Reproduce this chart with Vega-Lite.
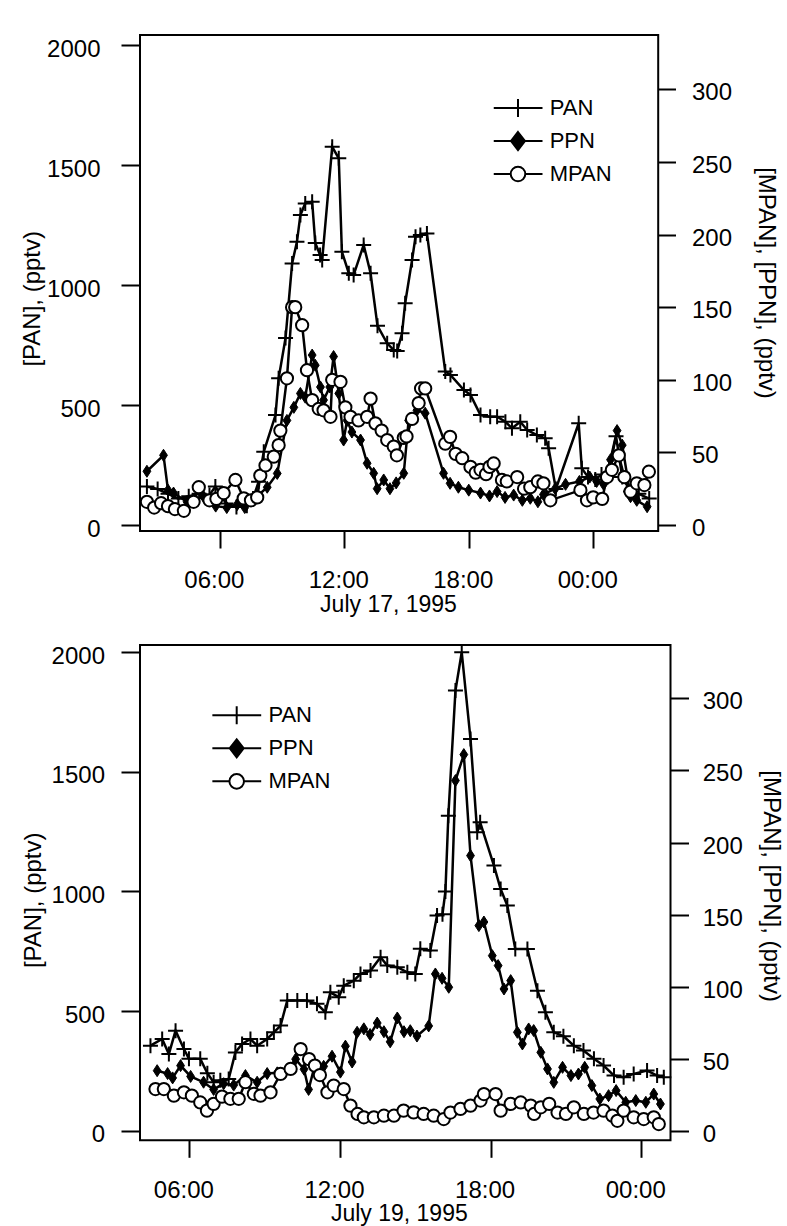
{
  "$schema": "https://vega.github.io/schema/vega-lite/v6.json",
  "padding": {"left": 19, "top": 34, "right": 4, "bottom": 0},
  "spacing": 22,
  "resolve": {"scale": {"shape": "independent", "fill": "independent", "stroke": "independent"}, "legend": {"shape": "independent", "fill": "independent", "stroke": "independent"}},
  "config": {
    "font": "Liberation Sans",
    "view": {"stroke": "black", "strokeWidth": 2},
    "axis": {"domain": false, "grid": false, "tickColor": "black", "tickWidth": 2, "labelColor": "black", "labelFontSize": 24, "titleFontSize": 24, "titleFontWeight": "normal", "titleColor": "black", "labelFlush": false}
  },
  "datasets": {
    "tPAN": [
      {"t":"1995-07-17T02:29","v":160},{"t":"1995-07-17T03:00","v":150},{"t":"1995-07-17T03:30","v":130},{"t":"1995-07-17T04:00","v":110},{"t":"1995-07-17T04:30","v":120},{"t":"1995-07-17T05:00","v":130},{"t":"1995-07-17T05:30","v":125},{"t":"1995-07-17T05:47","v":160},{"t":"1995-07-17T06:18","v":90},{"t":"1995-07-17T06:48","v":75},{"t":"1995-07-17T07:18","v":80},{"t":"1995-07-17T07:36","v":110},{"t":"1995-07-17T07:52","v":180},{"t":"1995-07-17T08:07","v":305},{"t":"1995-07-17T08:41","v":458},{"t":"1995-07-17T08:50","v":611},{"t":"1995-07-17T09:10","v":779},{"t":"1995-07-17T09:29","v":1090},{"t":"1995-07-17T09:43","v":1180},{"t":"1995-07-17T09:53","v":1292},{"t":"1995-07-17T10:07","v":1340},{"t":"1995-07-17T10:27","v":1347},{"t":"1995-07-17T10:36","v":1175},{"t":"1995-07-17T10:50","v":1125},{"t":"1995-07-17T10:56","v":1104},{"t":"1995-07-17T11:25","v":1576},{"t":"1995-07-17T11:44","v":1528},{"t":"1995-07-17T11:53","v":1139},{"t":"1995-07-17T12:13","v":1049},{"t":"1995-07-17T12:27","v":1042},{"t":"1995-07-17T12:56","v":1167},{"t":"1995-07-17T13:16","v":1049},{"t":"1995-07-17T13:36","v":830},{"t":"1995-07-17T14:04","v":757},{"t":"1995-07-17T14:23","v":729},{"t":"1995-07-17T14:33","v":725},{"t":"1995-07-17T14:47","v":799},{"t":"1995-07-17T14:56","v":924},{"t":"1995-07-17T15:16","v":1104},{"t":"1995-07-17T15:26","v":1201},{"t":"1995-07-17T15:40","v":1208},{"t":"1995-07-17T15:59","v":1215},{"t":"1995-07-17T16:52","v":640},{"t":"1995-07-17T17:07","v":625},{"t":"1995-07-17T17:46","v":562},{"t":"1995-07-17T18:05","v":542},{"t":"1995-07-17T18:34","v":458},{"t":"1995-07-17T19:02","v":451},{"t":"1995-07-17T19:22","v":451},{"t":"1995-07-17T19:46","v":430},{"t":"1995-07-17T20:05","v":403},{"t":"1995-07-17T20:29","v":430},{"t":"1995-07-17T20:49","v":396},{"t":"1995-07-17T21:17","v":375},{"t":"1995-07-17T21:41","v":361},{"t":"1995-07-17T21:51","v":320},{"t":"1995-07-17T22:12","v":150},{"t":"1995-07-17T23:18","v":424},{"t":"1995-07-17T23:27","v":236},{"t":"1995-07-17T23:45","v":200},{"t":"1995-07-18T00:06","v":190},{"t":"1995-07-18T00:24","v":210},{"t":"1995-07-18T00:42","v":200},{"t":"1995-07-18T01:06","v":370},{"t":"1995-07-18T01:24","v":200},{"t":"1995-07-18T01:48","v":140},{"t":"1995-07-18T02:12","v":130},{"t":"1995-07-18T02:42","v":110}
    ],
    "tPPN": [
      {"t":"1995-07-17T02:29","v":37},{"t":"1995-07-17T03:17","v":48},{"t":"1995-07-17T03:30","v":24},{"t":"1995-07-17T03:46","v":22},{"t":"1995-07-17T04:25","v":16},{"t":"1995-07-17T05:13","v":19.5},{"t":"1995-07-17T05:48","v":13},{"t":"1995-07-17T06:20","v":12},{"t":"1995-07-17T06:50","v":14},{"t":"1995-07-17T07:12","v":12},{"t":"1995-07-17T07:47","v":19.5},{"t":"1995-07-17T08:17","v":26},{"t":"1995-07-17T08:46","v":35.5},{"t":"1995-07-17T09:14","v":72},{"t":"1995-07-17T09:34","v":81},{"t":"1995-07-17T09:53","v":90.6},{"t":"1995-07-17T10:07","v":88},{"t":"1995-07-17T10:27","v":117},{"t":"1995-07-17T10:36","v":110},{"t":"1995-07-17T10:51","v":95},{"t":"1995-07-17T11:00","v":86},{"t":"1995-07-17T11:18","v":95},{"t":"1995-07-17T11:29","v":116},{"t":"1995-07-17T11:44","v":90.6},{"t":"1995-07-17T11:58","v":58.5},{"t":"1995-07-17T12:08","v":72},{"t":"1995-07-17T12:22","v":64},{"t":"1995-07-17T12:47","v":58.5},{"t":"1995-07-17T13:06","v":42.5},{"t":"1995-07-17T13:25","v":35.6},{"t":"1995-07-17T13:35","v":25},{"t":"1995-07-17T13:54","v":31},{"t":"1995-07-17T14:12","v":25},{"t":"1995-07-17T14:30","v":29},{"t":"1995-07-17T14:52","v":35.6},{"t":"1995-07-17T15:06","v":72},{"t":"1995-07-17T15:30","v":79},{"t":"1995-07-17T15:54","v":77},{"t":"1995-07-17T16:47","v":35.6},{"t":"1995-07-17T17:06","v":28.7},{"t":"1995-07-17T17:30","v":26},{"t":"1995-07-17T18:00","v":24},{"t":"1995-07-17T18:34","v":22},{"t":"1995-07-17T19:00","v":20},{"t":"1995-07-17T19:22","v":23},{"t":"1995-07-17T19:45","v":19},{"t":"1995-07-17T20:10","v":20.6},{"t":"1995-07-17T20:35","v":17},{"t":"1995-07-17T20:58","v":18.4},{"t":"1995-07-17T21:20","v":16},{"t":"1995-07-17T21:36","v":21},{"t":"1995-07-17T22:10","v":25},{"t":"1995-07-17T22:40","v":28},{"t":"1995-07-17T23:20","v":30},{"t":"1995-07-17T23:50","v":33},{"t":"1995-07-18T00:10","v":30},{"t":"1995-07-18T00:30","v":28},{"t":"1995-07-18T00:50","v":45},{"t":"1995-07-18T01:09","v":65},{"t":"1995-07-18T01:24","v":55},{"t":"1995-07-18T01:48","v":19.5},{"t":"1995-07-18T02:06","v":17},{"t":"1995-07-18T02:36","v":12.6}
    ],
    "tMPAN": [
      {"t":"1995-07-17T02:29","v":16},{"t":"1995-07-17T02:50","v":12},{"t":"1995-07-17T03:10","v":15},{"t":"1995-07-17T03:30","v":13},{"t":"1995-07-17T03:50","v":11},{"t":"1995-07-17T04:16","v":9.8},{"t":"1995-07-17T04:44","v":16},{"t":"1995-07-17T04:59","v":26},{"t":"1995-07-17T05:30","v":17},{"t":"1995-07-17T05:50","v":18},{"t":"1995-07-17T06:11","v":22},{"t":"1995-07-17T06:45","v":31},{"t":"1995-07-17T07:09","v":18.4},{"t":"1995-07-17T07:30","v":17},{"t":"1995-07-17T07:48","v":19},{"t":"1995-07-17T07:57","v":34},{"t":"1995-07-17T08:12","v":41},{"t":"1995-07-17T08:36","v":47},{"t":"1995-07-17T08:50","v":55},{"t":"1995-07-17T08:55","v":65},{"t":"1995-07-17T09:14","v":101},{"t":"1995-07-17T09:29","v":150},{"t":"1995-07-17T09:38","v":150},{"t":"1995-07-17T09:58","v":137.6},{"t":"1995-07-17T10:12","v":106.6},{"t":"1995-07-17T10:27","v":86},{"t":"1995-07-17T10:46","v":80},{"t":"1995-07-17T11:00","v":79},{"t":"1995-07-17T11:20","v":74.5},{"t":"1995-07-17T11:25","v":100},{"t":"1995-07-17T11:49","v":98.6},{"t":"1995-07-17T12:03","v":81},{"t":"1995-07-17T12:18","v":74.5},{"t":"1995-07-17T12:41","v":72},{"t":"1995-07-17T13:06","v":74.5},{"t":"1995-07-17T13:16","v":87},{"t":"1995-07-17T13:30","v":70},{"t":"1995-07-17T13:48","v":65},{"t":"1995-07-17T14:04","v":58.5},{"t":"1995-07-17T14:23","v":54},{"t":"1995-07-17T14:32","v":48},{"t":"1995-07-17T14:52","v":60},{"t":"1995-07-17T15:00","v":61},{"t":"1995-07-17T15:16","v":73},{"t":"1995-07-17T15:35","v":84},{"t":"1995-07-17T15:42","v":94},{"t":"1995-07-17T15:54","v":94},{"t":"1995-07-17T16:52","v":56},{"t":"1995-07-17T17:06","v":60.7},{"t":"1995-07-17T17:22","v":49},{"t":"1995-07-17T17:41","v":46},{"t":"1995-07-17T18:05","v":40},{"t":"1995-07-17T18:20","v":36},{"t":"1995-07-17T18:34","v":38},{"t":"1995-07-17T18:50","v":35},{"t":"1995-07-17T19:00","v":40},{"t":"1995-07-17T19:12","v":42.4},{"t":"1995-07-17T19:36","v":31},{"t":"1995-07-17T19:50","v":30},{"t":"1995-07-17T20:20","v":33},{"t":"1995-07-17T20:40","v":25},{"t":"1995-07-17T20:58","v":26},{"t":"1995-07-17T21:20","v":30},{"t":"1995-07-17T21:36","v":28.7},{"t":"1995-07-17T21:56","v":17},{"t":"1995-07-17T23:23","v":24},{"t":"1995-07-17T23:42","v":17},{"t":"1995-07-18T00:00","v":19},{"t":"1995-07-18T00:26","v":18},{"t":"1995-07-18T00:40","v":33},{"t":"1995-07-18T00:54","v":38},{"t":"1995-07-18T01:14","v":48},{"t":"1995-07-18T01:30","v":33},{"t":"1995-07-18T01:48","v":23},{"t":"1995-07-18T02:06","v":28.7},{"t":"1995-07-18T02:28","v":27.5},{"t":"1995-07-18T02:41","v":36.7}
    ],
    "bPAN": [
      {"t":"1995-07-19T04:27","v":355},{"t":"1995-07-19T04:55","v":383},{"t":"1995-07-19T05:11","v":320},{"t":"1995-07-19T05:27","v":418},{"t":"1995-07-19T05:47","v":341},{"t":"1995-07-19T05:59","v":300},{"t":"1995-07-19T06:26","v":300},{"t":"1995-07-19T06:43","v":240},{"t":"1995-07-19T06:58","v":202},{"t":"1995-07-19T07:14","v":210},{"t":"1995-07-19T07:34","v":216},{"t":"1995-07-19T07:50","v":327},{"t":"1995-07-19T08:06","v":362},{"t":"1995-07-19T08:26","v":383},{"t":"1995-07-19T08:42","v":355},{"t":"1995-07-19T09:06","v":383},{"t":"1995-07-19T09:22","v":411},{"t":"1995-07-19T09:38","v":439},{"t":"1995-07-19T09:54","v":544},{"t":"1995-07-19T10:18","v":544},{"t":"1995-07-19T10:41","v":544},{"t":"1995-07-19T11:05","v":530},{"t":"1995-07-19T11:25","v":495},{"t":"1995-07-19T11:37","v":578},{"t":"1995-07-19T11:57","v":558},{"t":"1995-07-19T12:09","v":606},{"t":"1995-07-19T12:33","v":627},{"t":"1995-07-19T12:49","v":655},{"t":"1995-07-19T13:13","v":669},{"t":"1995-07-19T13:37","v":725},{"t":"1995-07-19T13:53","v":690},{"t":"1995-07-19T14:17","v":683},{"t":"1995-07-19T14:41","v":662},{"t":"1995-07-19T15:00","v":655},{"t":"1995-07-19T15:12","v":760},{"t":"1995-07-19T15:36","v":753},{"t":"1995-07-19T15:52","v":899},{"t":"1995-07-19T16:05","v":905},{"t":"1995-07-19T16:12","v":1000},{"t":"1995-07-19T16:19","v":1317},{"t":"1995-07-19T16:36","v":1840},{"t":"1995-07-19T16:51","v":2000},{"t":"1995-07-19T17:12","v":1637},{"t":"1995-07-19T17:28","v":1247},{"t":"1995-07-19T17:35","v":1289},{"t":"1995-07-19T18:08","v":1108},{"t":"1995-07-19T18:24","v":1010},{"t":"1995-07-19T18:40","v":941},{"t":"1995-07-19T18:59","v":759},{"t":"1995-07-19T19:28","v":759},{"t":"1995-07-19T19:52","v":585},{"t":"1995-07-19T20:11","v":495},{"t":"1995-07-19T20:31","v":411},{"t":"1995-07-19T20:54","v":395},{"t":"1995-07-19T21:19","v":355},{"t":"1995-07-19T21:42","v":335},{"t":"1995-07-19T22:07","v":300},{"t":"1995-07-19T22:30","v":272},{"t":"1995-07-19T22:55","v":230},{"t":"1995-07-19T23:18","v":223},{"t":"1995-07-19T23:42","v":237},{"t":"1995-07-20T00:14","v":251},{"t":"1995-07-20T00:38","v":230},{"t":"1995-07-20T00:54","v":223}
    ],
    "bPPN": [
      {"t":"1995-07-19T04:43","v":42},{"t":"1995-07-19T05:08","v":40},{"t":"1995-07-19T05:20","v":37},{"t":"1995-07-19T05:39","v":45.5},{"t":"1995-07-19T06:03","v":38},{"t":"1995-07-19T06:34","v":34},{"t":"1995-07-19T06:58","v":29},{"t":"1995-07-19T07:22","v":33},{"t":"1995-07-19T07:46","v":32},{"t":"1995-07-19T08:14","v":38.6},{"t":"1995-07-19T08:42","v":34},{"t":"1995-07-19T09:06","v":40},{"t":"1995-07-19T09:30","v":40.5},{"t":"1995-07-19T09:54","v":43},{"t":"1995-07-19T10:14","v":50},{"t":"1995-07-19T10:34","v":43},{"t":"1995-07-19T10:45","v":29},{"t":"1995-07-19T11:00","v":46},{"t":"1995-07-19T11:21","v":45},{"t":"1995-07-19T11:41","v":52},{"t":"1995-07-19T12:01","v":41},{"t":"1995-07-19T12:13","v":59},{"t":"1995-07-19T12:29","v":48},{"t":"1995-07-19T12:41","v":68.6},{"t":"1995-07-19T12:57","v":71},{"t":"1995-07-19T13:12","v":67},{"t":"1995-07-19T13:29","v":75},{"t":"1995-07-19T13:45","v":69},{"t":"1995-07-19T14:00","v":62},{"t":"1995-07-19T14:17","v":78.5},{"t":"1995-07-19T14:33","v":69},{"t":"1995-07-19T14:48","v":69.7},{"t":"1995-07-19T15:04","v":66},{"t":"1995-07-19T15:32","v":73},{"t":"1995-07-19T15:48","v":109},{"t":"1995-07-19T16:04","v":106},{"t":"1995-07-19T16:20","v":99.8},{"t":"1995-07-19T16:36","v":243},{"t":"1995-07-19T16:56","v":261},{"t":"1995-07-19T17:12","v":191},{"t":"1995-07-19T17:32","v":142.5},{"t":"1995-07-19T17:44","v":145},{"t":"1995-07-19T18:04","v":121.7},{"t":"1995-07-19T18:18","v":114.8},{"t":"1995-07-19T18:32","v":98.6},{"t":"1995-07-19T18:48","v":104.4},{"t":"1995-07-19T19:04","v":68.6},{"t":"1995-07-19T19:16","v":60.5},{"t":"1995-07-19T19:31","v":70.9},{"t":"1995-07-19T19:43","v":69.8},{"t":"1995-07-19T20:00","v":54.7},{"t":"1995-07-19T20:16","v":43.2},{"t":"1995-07-19T20:31","v":33.9},{"t":"1995-07-19T20:52","v":44.3},{"t":"1995-07-19T21:12","v":38.6},{"t":"1995-07-19T21:30","v":39.7},{"t":"1995-07-19T21:45","v":44.3},{"t":"1995-07-19T22:02","v":31.7},{"t":"1995-07-19T22:21","v":22.4},{"t":"1995-07-19T22:42","v":24.7},{"t":"1995-07-19T23:00","v":28.2},{"t":"1995-07-19T23:23","v":20.1},{"t":"1995-07-19T23:47","v":21.3},{"t":"1995-07-20T00:11","v":20.1},{"t":"1995-07-20T00:30","v":25.8},{"t":"1995-07-20T00:46","v":18.9}
    ],
    "bMPAN": [
      {"t":"1995-07-19T04:39","v":29.3},{"t":"1995-07-19T04:59","v":29.3},{"t":"1995-07-19T05:23","v":24.7},{"t":"1995-07-19T05:47","v":27},{"t":"1995-07-19T06:06","v":24.7},{"t":"1995-07-19T06:26","v":20},{"t":"1995-07-19T06:42","v":14.3},{"t":"1995-07-19T06:58","v":19},{"t":"1995-07-19T07:18","v":24},{"t":"1995-07-19T07:38","v":22.5},{"t":"1995-07-19T07:58","v":22.5},{"t":"1995-07-19T08:14","v":34},{"t":"1995-07-19T08:34","v":26},{"t":"1995-07-19T08:50","v":24.7},{"t":"1995-07-19T09:14","v":27},{"t":"1995-07-19T09:38","v":39.7},{"t":"1995-07-19T10:02","v":43.2},{"t":"1995-07-19T10:26","v":57},{"t":"1995-07-19T10:46","v":50},{"t":"1995-07-19T11:00","v":45.5},{"t":"1995-07-19T11:12","v":39},{"t":"1995-07-19T11:30","v":27},{"t":"1995-07-19T11:45","v":31.7},{"t":"1995-07-19T12:09","v":29.3},{"t":"1995-07-19T12:25","v":17.8},{"t":"1995-07-19T12:42","v":12},{"t":"1995-07-19T12:57","v":9.7},{"t":"1995-07-19T13:21","v":9.7},{"t":"1995-07-19T13:45","v":10.8},{"t":"1995-07-19T14:09","v":10.8},{"t":"1995-07-19T14:32","v":14.3},{"t":"1995-07-19T14:56","v":13.1},{"t":"1995-07-19T15:20","v":12},{"t":"1995-07-19T15:44","v":10.8},{"t":"1995-07-19T16:08","v":8.5},{"t":"1995-07-19T16:24","v":13},{"t":"1995-07-19T16:48","v":15.5},{"t":"1995-07-19T17:12","v":17.8},{"t":"1995-07-19T17:36","v":21.3},{"t":"1995-07-19T17:44","v":25.8},{"t":"1995-07-19T18:12","v":25.8},{"t":"1995-07-19T18:24","v":14.3},{"t":"1995-07-19T18:48","v":19},{"t":"1995-07-19T19:12","v":20},{"t":"1995-07-19T19:36","v":17.8},{"t":"1995-07-19T19:44","v":12},{"t":"1995-07-19T20:00","v":16.6},{"t":"1995-07-19T20:20","v":19},{"t":"1995-07-19T20:40","v":13},{"t":"1995-07-19T21:00","v":12},{"t":"1995-07-19T21:19","v":16.6},{"t":"1995-07-19T21:43","v":12},{"t":"1995-07-19T22:06","v":13},{"t":"1995-07-19T22:30","v":14.3},{"t":"1995-07-19T22:51","v":10.8},{"t":"1995-07-19T23:03","v":7.3},{"t":"1995-07-19T23:18","v":14.3},{"t":"1995-07-19T23:42","v":9.7},{"t":"1995-07-20T00:06","v":8.5},{"t":"1995-07-20T00:30","v":9.7},{"t":"1995-07-20T00:42","v":5}
    ]
  },
  "vconcat": [
    {
      "width": 518.2,
      "height": 496,
      "layer": [
        {
          "encoding": {
            "x": {"field": "t", "type": "temporal",
              "scale": {"domain": [{"year":1995,"month":7,"date":17,"hours":2,"minutes":9},{"year":1995,"month":7,"date":18,"hours":3,"minutes":8}]},
              "axis": {"values": [{"year":1995,"month":7,"date":17,"hours":6},{"year":1995,"month":7,"date":17,"hours":12},{"year":1995,"month":7,"date":17,"hours":18},{"year":1995,"month":7,"date":18,"hours":0}],
                "format": "%H:%M", "tickSize": 17, "labelPadding": 20.3, "labelOffset": -6, "title": "July 17, 1995", "titleX": 248, "titleY": 62, "titleFontSize": 23}},
            "y": {"field": "v", "type": "quantitative",
              "scale": {"domain": [-25, 2041.7], "nice": false, "zero": false},
              "axis": {"orient": "left", "values": [0, 500, 1000, 1500, 2000], "format": "d", "tickSize": 19, "labelPadding": 21, "labelOffset": 4, "title": "[PAN], (pptv)", "titleX": -96, "titleY": 263.3}}
          },
          "layer": [
            {"data": {"name": "tPAN"}, "mark": {"type": "line", "color": "black", "strokeWidth": 2.5}},
            {"data": {"name": "tPAN"}, "mark": {"type": "point", "shape": "M-1,0H1M0,-1V1", "size": 225, "filled": false, "stroke": "black", "strokeWidth": 2, "opacity": 1}}
          ]
        },
        {
          "encoding": {
            "x": {"field": "t", "type": "temporal",
              "scale": {"domain": [{"year":1995,"month":7,"date":17,"hours":2,"minutes":9},{"year":1995,"month":7,"date":18,"hours":3,"minutes":8}]}},
            "y": {"field": "v", "type": "quantitative",
              "scale": {"domain": [-4.13, 337.4], "nice": false, "zero": false},
              "axis": {"orient": "right", "values": [0, 50, 100, 150, 200, 250, 300], "format": "d", "tickSize": 17.3, "labelPadding": 16, "labelOffset": 3.5, "title": "[MPAN], [PPN], (pptv)", "titleX": 95.3, "titleY": 247.5}}
          },
          "layer": [
            {"data": {"name": "tPPN"}, "mark": {"type": "line", "color": "black", "strokeWidth": 2.5}},
            {"data": {"name": "tMPAN"}, "mark": {"type": "line", "color": "black", "strokeWidth": 2.5}},
            {"data": {"name": "tPPN"}, "mark": {"type": "point", "shape": "M0,-1L0.65,0L0,1L-0.65,0Z", "size": 144, "filled": true, "fill": "black", "stroke": "black", "strokeWidth": 1, "opacity": 1}},
            {"data": {"name": "tMPAN"}, "mark": {"type": "point", "shape": "circle", "size": 150, "filled": true, "fill": "white", "stroke": "black", "strokeWidth": 2, "opacity": 1}}
          ]
        },
        {
          "data": {"values": [{"s": "PAN"}, {"s": "PPN"}, {"s": "MPAN"}]},
          "mark": {"type": "point", "opacity": 0},
          "encoding": {
            "shape": {"field": "s", "type": "nominal",
              "scale": {"domain": ["PAN", "PPN", "MPAN"], "range": ["M-2.45,0H2.45M0,-0.9V0.9", "M-2.45,0H2.45M0,-0.9L0.7,0L0,0.9L-0.7,0Z", "M-2.45,0H-0.73M0.73,0H2.45M-0.73,0A0.73,0.73,0,1,0,0.73,0A0.73,0.73,0,1,0,-0.73,0Z"]},
              "legend": {"title": null, "orient": "none", "legendX": 353.5, "legendY": 56.5, "symbolSize": 400, "symbolStrokeWidth": 2, "symbolOpacity": 1, "symbolOffset": 13.5, "labelOffset": 20.7, "labelFontSize": 22, "labelColor": "black", "clipHeight": 33, "rowPadding": 0, "padding": 0}},
            "fill": {"field": "s", "type": "nominal",
              "scale": {"domain": ["PAN", "PPN", "MPAN"], "range": ["transparent", "black", "white"]},
              "legend": {"title": null, "orient": "none", "legendX": 353.5, "legendY": 56.5, "symbolSize": 400, "symbolStrokeWidth": 2, "symbolOpacity": 1, "symbolOffset": 13.5, "labelOffset": 20.7, "labelFontSize": 22, "labelColor": "black", "clipHeight": 33, "rowPadding": 0, "padding": 0}},
            "stroke": {"field": "s", "type": "nominal",
              "scale": {"domain": ["PAN", "PPN", "MPAN"], "range": ["black", "black", "black"]},
              "legend": {"title": null, "orient": "none", "legendX": 353.5, "legendY": 56.5, "symbolSize": 400, "symbolStrokeWidth": 2, "symbolOpacity": 1, "symbolOffset": 13.5, "labelOffset": 20.7, "labelFontSize": 22, "labelColor": "black", "clipHeight": 33, "rowPadding": 0, "padding": 0}}
          }
        }
      ],
      "resolve": {"scale": {"y": "independent"}}
    },
    {
      "width": 530.5,
      "height": 495.3,
      "layer": [
        {
          "encoding": {
            "x": {"field": "t", "type": "temporal",
              "scale": {"domain": [{"year":1995,"month":7,"date":19,"hours":4,"minutes":2},{"year":1995,"month":7,"date":20,"hours":1,"minutes":10}]},
              "axis": {"values": [{"year":1995,"month":7,"date":19,"hours":6},{"year":1995,"month":7,"date":19,"hours":12},{"year":1995,"month":7,"date":19,"hours":18},{"year":1995,"month":7,"date":20,"hours":0}],
                "format": "%H:%M", "tickSize": 17, "labelPadding": 21.6, "labelOffset": -6, "title": "July 19, 1995", "titleX": 258.8, "titleY": 62, "titleFontSize": 23}},
            "y": {"field": "v", "type": "quantitative",
              "scale": {"domain": [-40.6, 2030.5], "nice": false, "zero": false},
              "axis": {"orient": "left", "values": [0, 500, 1000, 1500, 2000], "format": "d", "tickSize": 19, "labelPadding": 16.5, "labelOffset": 4, "title": "[PAN], (pptv)", "titleX": -94.5, "titleY": 254.8}}
          },
          "layer": [
            {"data": {"name": "bPAN"}, "mark": {"type": "line", "color": "black", "strokeWidth": 2.5}},
            {"data": {"name": "bPAN"}, "mark": {"type": "point", "shape": "M-1,0H1M0,-1V1", "size": 225, "filled": false, "stroke": "black", "strokeWidth": 2, "opacity": 1}}
          ]
        },
        {
          "encoding": {
            "x": {"field": "t", "type": "temporal",
              "scale": {"domain": [{"year":1995,"month":7,"date":19,"hours":4,"minutes":2},{"year":1995,"month":7,"date":20,"hours":1,"minutes":10}]}},
            "y": {"field": "v", "type": "quantitative",
              "scale": {"domain": [-6.24, 336.93], "nice": false, "zero": false},
              "axis": {"orient": "right", "values": [0, 50, 100, 150, 200, 250, 300], "format": "d", "tickSize": 18, "labelPadding": 13.7, "labelOffset": 3.5, "title": "[MPAN], [PPN], (pptv)", "titleX": 88, "titleY": 240.6}}
          },
          "layer": [
            {"data": {"name": "bPPN"}, "mark": {"type": "line", "color": "black", "strokeWidth": 2.5}},
            {"data": {"name": "bMPAN"}, "mark": {"type": "line", "color": "black", "strokeWidth": 2.5}},
            {"data": {"name": "bPPN"}, "mark": {"type": "point", "shape": "M0,-1L0.65,0L0,1L-0.65,0Z", "size": 144, "filled": true, "fill": "black", "stroke": "black", "strokeWidth": 1, "opacity": 1}},
            {"data": {"name": "bMPAN"}, "mark": {"type": "point", "shape": "circle", "size": 150, "filled": true, "fill": "white", "stroke": "black", "strokeWidth": 2, "opacity": 1}}
          ]
        },
        {
          "data": {"values": [{"s": "PAN"}, {"s": "PPN"}, {"s": "MPAN"}]},
          "mark": {"type": "point", "opacity": 0},
          "encoding": {
            "shape": {"field": "s", "type": "nominal",
              "scale": {"domain": ["PAN", "PPN", "MPAN"], "range": ["M-2.45,0H2.45M0,-0.9V0.9", "M-2.45,0H2.45M0,-0.9L0.7,0L0,0.9L-0.7,0Z", "M-2.45,0H-0.73M0.73,0H2.45M-0.73,0A0.73,0.73,0,1,0,0.73,0A0.73,0.73,0,1,0,-0.73,0Z"]},
              "legend": {"title": null, "orient": "none", "legendX": 72.2, "legendY": 54.1, "symbolSize": 400, "symbolStrokeWidth": 2, "symbolOpacity": 1, "symbolOffset": 13.5, "labelOffset": 20.7, "labelFontSize": 22, "labelColor": "black", "clipHeight": 32.5, "rowPadding": 0, "padding": 0}},
            "fill": {"field": "s", "type": "nominal",
              "scale": {"domain": ["PAN", "PPN", "MPAN"], "range": ["transparent", "black", "white"]},
              "legend": {"title": null, "orient": "none", "legendX": 72.2, "legendY": 54.1, "symbolSize": 400, "symbolStrokeWidth": 2, "symbolOpacity": 1, "symbolOffset": 13.5, "labelOffset": 20.7, "labelFontSize": 22, "labelColor": "black", "clipHeight": 32.5, "rowPadding": 0, "padding": 0}},
            "stroke": {"field": "s", "type": "nominal",
              "scale": {"domain": ["PAN", "PPN", "MPAN"], "range": ["black", "black", "black"]},
              "legend": {"title": null, "orient": "none", "legendX": 72.2, "legendY": 54.1, "symbolSize": 400, "symbolStrokeWidth": 2, "symbolOpacity": 1, "symbolOffset": 13.5, "labelOffset": 20.7, "labelFontSize": 22, "labelColor": "black", "clipHeight": 32.5, "rowPadding": 0, "padding": 0}}
          }
        }
      ],
      "resolve": {"scale": {"y": "independent"}}
    }
  ]
}
